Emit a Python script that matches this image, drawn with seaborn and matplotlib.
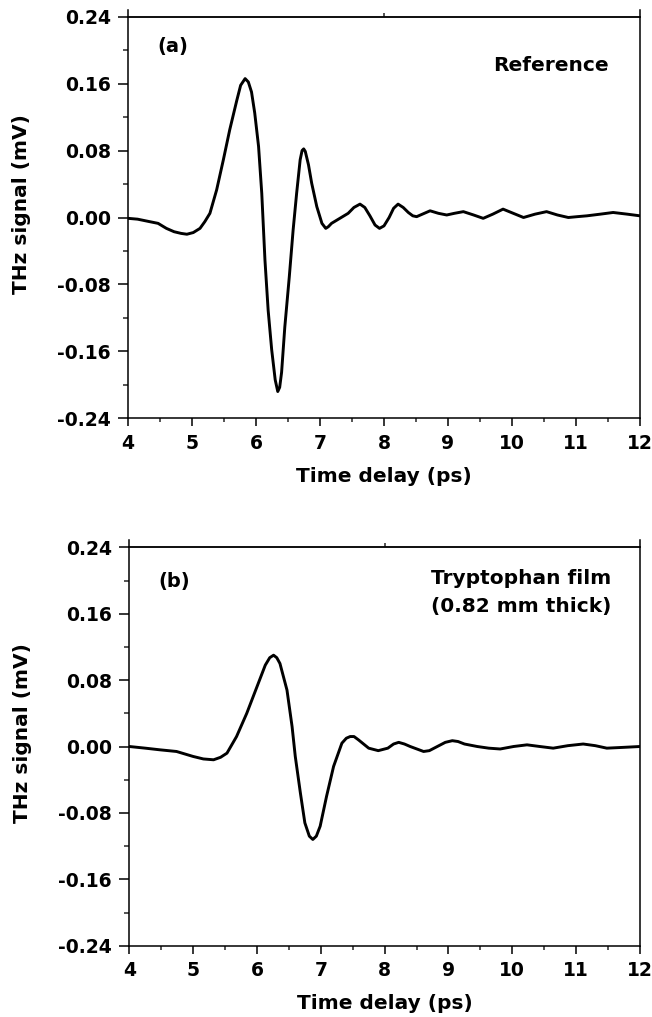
import matplotlib
matplotlib.use("Agg")
import matplotlib.pyplot as plt
import seaborn as sns
import pandas as pd
from matplotlib.ticker import MultipleLocator, FormatStrFormatter

# ---------------- data ----------------
time_a = [4.00, 4.15, 4.34, 4.47, 4.60, 4.72, 4.83, 4.92, 5.02, 5.125,
          5.20, 5.28, 5.385, 5.49, 5.59, 5.70, 5.76, 5.83, 5.88, 5.93,
          5.98, 6.04, 6.09, 6.14, 6.19, 6.245, 6.30, 6.34, 6.37, 6.40,
          6.45, 6.52, 6.58, 6.635, 6.69, 6.72, 6.745, 6.77, 6.82, 6.87,
          6.95, 7.03, 7.09, 7.13, 7.18, 7.31, 7.44, 7.53, 7.625, 7.70,
          7.78, 7.86, 7.93, 8.00, 8.08, 8.15, 8.22, 8.30, 8.38, 8.45,
          8.51, 8.60, 8.72, 8.85, 8.98, 9.10, 9.24, 9.40, 9.55, 9.70,
          9.86, 10.02, 10.18, 10.36, 10.54, 10.71, 10.88, 11.02, 11.17, 11.38,
          11.58, 11.80, 12.00]
signal_a = [-0.001, -0.002, -0.005, -0.007, -0.013, -0.017, -0.019, -0.020, -0.018, -0.013,
            -0.005, 0.005, 0.033, 0.069, 0.105, 0.140, 0.158, 0.166, 0.162, 0.150,
            0.125, 0.085, 0.029, -0.051, -0.111, -0.158, -0.194, -0.208, -0.203, -0.185,
            -0.131, -0.071, -0.015, 0.029, 0.069, 0.080, 0.082, 0.079, 0.063, 0.041,
            0.013, -0.007, -0.013, -0.011, -0.007, -0.001, 0.005, 0.012, 0.016, 0.012,
            0.002, -0.009, -0.013, -0.010, 0.000, 0.011, 0.016, 0.012, 0.006, 0.002,
            0.001, 0.004, 0.008, 0.005, 0.003, 0.005, 0.007, 0.003, -0.001, 0.004,
            0.010, 0.005, 0.000, 0.004, 0.007, 0.003, 0.000, 0.001, 0.002, 0.004,
            0.006, 0.004, 0.002]

time_b = [4.00, 4.25, 4.48, 4.74, 5.00, 5.16, 5.32, 5.43, 5.53, 5.68,
          5.84, 6.00, 6.13, 6.20, 6.26, 6.31, 6.36, 6.47, 6.55, 6.60,
          6.68, 6.75, 6.82, 6.875, 6.93, 6.99, 7.09, 7.20, 7.33, 7.40,
          7.46, 7.52, 7.59, 7.67, 7.75, 7.90, 8.05, 8.14, 8.22, 8.31,
          8.40, 8.61, 8.70, 8.80, 8.95, 9.06, 9.15, 9.25, 9.45, 9.63,
          9.81, 10.02, 10.23, 10.43, 10.64, 10.87, 11.11, 11.30, 11.48, 11.75,
          12.00]
signal_b = [0.000, -0.002, -0.004, -0.006, -0.012, -0.015, -0.016, -0.013, -0.008, 0.012,
            0.040, 0.072, 0.098, 0.107, 0.110, 0.107, 0.100, 0.068, 0.024, -0.012,
            -0.056, -0.092, -0.108, -0.112, -0.108, -0.096, -0.060, -0.024, 0.004, 0.010,
            0.012, 0.012, 0.008, 0.003, -0.002, -0.005, -0.002, 0.003, 0.005, 0.003,
            0.000, -0.006, -0.005, -0.001, 0.005, 0.007, 0.006, 0.003, 0.000, -0.002,
            -0.003, 0.000, 0.002, 0.000, -0.002, 0.001, 0.003, 0.001, -0.002, -0.001,
            0.000]

x_ticks = [4, 5, 6, 7, 8, 9, 10, 11, 12]
y_ticks = [-0.24, -0.16, -0.08, 0.00, 0.08, 0.16, 0.24]
panel_tags = ["(a)", "(b)"]
sample_a = ["Reference"]
sample_b = ["Tryptophan film", "(0.82 mm thick)"]
x_label = "Time delay (ps)"
y_label = "THz signal (mV)"

# ---------------- style ----------------
sns.set_theme(style="ticks")
plt.rcParams["font.family"] = ["DejaVu Sans"]
plt.rcParams["font.weight"] = "bold"
plt.rcParams["axes.labelweight"] = "bold"
plt.rcParams["text.color"] = "black"
plt.rcParams["axes.labelcolor"] = "black"

fig = plt.figure(figsize=(6.52, 10.17), dpi=100)
W, H = 652, 1017
# axes rectangles from pixel bounds (left, top, right, bottom)
boxes = [(128, 16.7, 640, 418.3), (129.3, 547.3, 640, 945.7)]

df_a = pd.DataFrame({"t": time_a, "v": signal_a})
df_b = pd.DataFrame({"t": time_b, "v": signal_b})

for i, (df, box) in enumerate(zip([df_a, df_b], boxes)):
    l, t, r, b = box
    ax = fig.add_axes([l / W, 1 - b / H, (r - l) / W, (b - t) / H])
    sns.lineplot(data=df, x="t", y="v", ax=ax, color="black", linewidth=2.1,
                 estimator=None, sort=False)
    ax.set_xlim(4, 12)
    ax.set_ylim(-0.24, 0.24)
    ax.set_xticks(x_ticks)
    ax.set_yticks(y_ticks)
    ax.xaxis.set_minor_locator(MultipleLocator(0.5))
    ax.yaxis.set_minor_locator(MultipleLocator(0.04))
    ax.yaxis.set_major_formatter(FormatStrFormatter("%.2f"))
    for s in ax.spines.values():
        s.set_linewidth(1.1)
        s.set_color("black")
    ax.spines["left"].set_bounds(-0.24, 0.2485)
    ax.spines["right"].set_bounds(-0.24, 0.2485)
    ax.tick_params(axis="x", which="major", direction="out", length=6, width=1.1,
                   pad=5, labelsize=13.5, colors="black")
    ax.tick_params(axis="x", which="minor", direction="out", length=3, width=1.1)
    ax.tick_params(axis="y", which="major", direction="out", length=7, width=1.1,
                   pad=5.5, labelsize=13.5, colors="black")
    ax.tick_params(axis="y", which="minor", direction="out", length=3.6, width=1.1)
    for lab in ax.get_xticklabels() + ax.get_yticklabels():
        lab.set_fontweight("bold")

    # single tick on the top axis (as in the reference)
    sec = ax.secondary_xaxis("top")
    sec.set_xticks([8])
    sec.tick_params(axis="x", direction="out", length=3, width=1.1, labeltop=False)
    sec.spines["top"].set_linewidth(1.1)

    ax.set_xlabel(x_label, fontsize=14.5, fontweight="bold", color="black")
    ax.set_ylabel(y_label, fontsize=14.5, fontweight="bold", color="black")
    ax.xaxis.set_label_coords(0.5, -0.122)
    ax.yaxis.set_label_coords(-0.19, 0.533)

    ax.text(0.087 if i == 0 else 0.0875, 0.927 if i == 0 else 0.915, panel_tags[i],
            transform=ax.transAxes, ha="center", va="center",
            fontsize=14, fontweight="bold", color="black")
    if i == 0:
        ax.text(0.9395, 0.8656, sample_a[0], transform=ax.transAxes,
                ha="right", va="baseline", fontsize=14.5, fontweight="bold",
                color="black")
    else:
        ax.text(0.767, 0.907, sample_b[0], transform=ax.transAxes,
                ha="center", va="baseline", fontsize=14.5, fontweight="bold",
                color="black")
        ax.text(0.767, 0.838, sample_b[1], transform=ax.transAxes,
                ha="center", va="baseline", fontsize=14.5, fontweight="bold",
                color="black")

fig.savefig("out.png", dpi=100)
